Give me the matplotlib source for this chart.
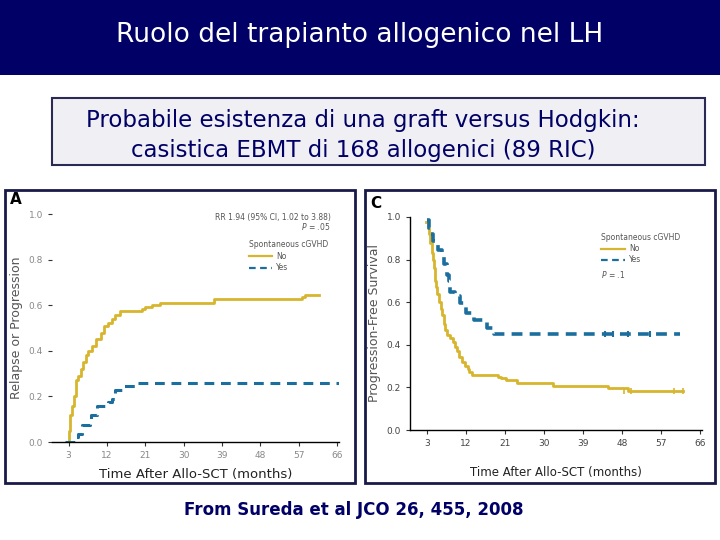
import numpy as np
import matplotlib
matplotlib.use('Agg')
import matplotlib.pyplot as plt
from matplotlib.patches import Rectangle

########################## Data ##########################

title = 'Ruolo del trapianto allogenico nel LH'
box_lines = ['Probabile esistenza di una graft versus Hodgkin:',
             'casistica EBMT di 168 allogenici (89 RIC)']
footer = 'From Sureda et al JCO 26, 455, 2008'

x_ticks = [3, 12, 21, 30, 39, 48, 57, 66]
y_ticks = [0.0, 0.2, 0.4, 0.6, 0.8, 1.0]

# panel A : relapse or progression (cumulative incidence)
a_no_t = [2.6, 3.0, 3.3, 3.8, 4.2, 4.8, 5.3, 5.8, 6.4, 7.0, 7.6, 8.5, 9.5, 10.5, 11.3,
          12.3, 13.2, 14.0, 15.0, 20.2, 21.0, 22.6, 24.5, 37.2, 57.8, 58.4, 61.7]
a_no_v = [0.0, 0.05, 0.12, 0.16, 0.20, 0.27, 0.29, 0.32, 0.35, 0.38, 0.40, 0.42, 0.45, 0.48, 0.51,
          0.52, 0.54, 0.555, 0.575, 0.585, 0.59, 0.60, 0.61, 0.626, 0.637, 0.645, 0.645]
a_yes_t = [2.2, 4.8, 5.3, 6.1, 8.0, 8.3, 9.7, 12.3, 13.2, 14.0, 15.9, 19.0, 66.8]
a_yes_v = [0.0, 0.02, 0.037, 0.073, 0.095, 0.117, 0.16, 0.175, 0.19, 0.227, 0.245, 0.26, 0.26]

# panel C : progression-free survival
c_no_t = [2.8, 3.2, 3.5, 3.8, 4.1, 4.4, 4.7, 4.8, 5.0, 5.4, 5.9, 6.3, 6.6, 6.9, 7.1, 7.6, 8.3,
          9.0, 9.5, 10.0, 10.5, 11.1, 11.8, 12.4, 12.8, 13.4, 19.3, 20.0, 21.2, 23.8, 32.2,
          44.7, 49.5, 62.2]
c_no_v = [0.975, 0.95, 0.92, 0.88, 0.83, 0.80, 0.76, 0.70, 0.67, 0.64, 0.60, 0.57, 0.54, 0.50,
          0.47, 0.445, 0.43, 0.415, 0.39, 0.37, 0.345, 0.32, 0.30, 0.285, 0.27, 0.26, 0.25, 0.245,
          0.235, 0.22, 0.207, 0.195, 0.183, 0.183]
c_yes_t = [3.0, 3.6, 3.9, 4.4, 5.5, 6.5, 7.0, 7.6, 8.0, 8.4, 9.5, 10.7, 12.1, 13.8, 16.8, 18.4, 61.5]
c_yes_v = [0.985, 0.95, 0.92, 0.885, 0.846, 0.815, 0.78, 0.73, 0.70, 0.65, 0.627, 0.596, 0.55,
           0.517, 0.478, 0.45, 0.45]
c_yes_cens = [44.0, 46.0, 49.5, 54.5]
c_no_cens = [48.5, 50.0, 60.0, 62.0]

navy = '#000066'
yellow = '#d8b52e'
blue = '#1b6e9e'

W, H = 720, 540
fig = plt.figure(figsize=(7.2, 5.4), dpi=100)


def rect_px(x0, y0, x1, y1):  # pixel box (top-left origin) -> figure fraction
    return [x0 / W, 1 - y1 / H, (x1 - x0) / W, (y1 - y0) / H]


def box(x0, y0, x1, y1, fc, ec, lw):
    fig.patches.append(Rectangle((x0 / W, 1 - y1 / H), (x1 - x0) / W, (y1 - y0) / H,
                                 transform=fig.transFigure, facecolor=fc, edgecolor=ec,
                                 linewidth=lw, zorder=-10))


def txt(x, y, s, **kw):
    fig.text(x / W, 1 - y / H, s, **kw)


########################## Slide background ##########################

box(0, 0, 720, 75, navy, navy, 0)
txt(360, 35, title, color='white', fontsize=19, ha='center', va='center')

box(52, 98, 705, 165, '#f0f0f4', '#2a2a55', 1.5)
txt(363, 121, box_lines[0], color=navy, fontsize=16.5, ha='center', va='center')
txt(363, 150, box_lines[1], color=navy, fontsize=16.5, ha='center', va='center')

txt(354, 510, footer, color=navy, fontsize=12, ha='center', va='center', fontweight='bold')

box(5, 190, 355, 483, 'white', '#1a1a4a', 2)
box(365, 190, 715, 483, 'white', '#1a1a4a', 2)

txt(10, 200, 'A', fontsize=11, fontweight='bold', ha='left', va='center')
txt(370, 204, 'C', fontsize=11, fontweight='bold', ha='left', va='center')


def setup(ax, tick_col, ylabel, show_left, xl_size):
    ax.set_zorder(5)
    ax.set_xlim(-0.9, 66.5)
    ax.set_ylim(0, 1.0)
    ax.set_xticks(x_ticks)
    ax.set_yticks(y_ticks)
    ax.set_yticklabels(['%.1f' % v for v in y_ticks])
    for s in ['top', 'right']:
        ax.spines[s].set_visible(False)
    ax.spines['left'].set_visible(show_left)
    ax.spines['bottom'].set_linewidth(1.0)
    ax.spines['left'].set_linewidth(1.0)
    ax.tick_params(labelsize=6.5, colors='#333333', labelcolor=tick_col, length=3, width=0.8)
    ax.set_xlabel('Time After Allo-SCT (months)', fontsize=xl_size, color='#222222', labelpad=6)
    ax.set_ylabel(ylabel, fontsize=9, color='#555555', labelpad=4)
    ax.patch.set_alpha(0)


########################## Panel A ##########################

axA = fig.add_axes(rect_px(52, 214, 339, 442))
setup(axA, '#888888', 'Relapse or Progression', False, 9.5)
axA.step(a_no_t, a_no_v, where='post', color=yellow, lw=2.0)
axA.step(a_yes_t, a_yes_v, where='post', color=blue, lw=2.2, linestyle=(0, (3.2, 2.2)))
axA.text(0.97, 0.985, 'RR 1.94 (95% CI, 1.02 to 3.88)', transform=axA.transAxes,
         fontsize=5.5, color='#555555', ha='right', va='center')
axA.text(0.97, 0.945, r'$P$ = .05', transform=axA.transAxes,
         fontsize=5.5, color='#555555', ha='right', va='center')
axA.text(0.685, 0.865, 'Spontaneous cGVHD', transform=axA.transAxes,
         fontsize=5.5, color='#555555', ha='left', va='center')
axA.plot([0.685, 0.765], [0.815, 0.815], transform=axA.transAxes, color=yellow, lw=1.6)
axA.plot([0.685, 0.765], [0.765, 0.765], transform=axA.transAxes, color=blue, lw=1.6,
         linestyle=(0, (3, 2)))
axA.text(0.78, 0.815, 'No', transform=axA.transAxes, fontsize=5.5, color='#555555', va='center')
axA.text(0.78, 0.765, 'Yes', transform=axA.transAxes, fontsize=5.5, color='#555555', va='center')

########################## Panel C ##########################

axC = fig.add_axes(rect_px(410, 217, 702, 430))
setup(axC, '#444444', 'Progression-Free Survival', True, 8.5)
axC.xaxis.labelpad = 13
axC.step(c_no_t, c_no_v, where='post', color=yellow, lw=2.0)
axC.step(c_yes_t, c_yes_v, where='post', color=blue, lw=2.6, linestyle=(0, (3.0, 2.0)))
axC.plot(c_yes_cens, [c_yes_v[-1]] * len(c_yes_cens), ls='none', marker='|', ms=5, mew=1.5, color=blue)
axC.plot(c_no_cens, [c_no_v[-1]] * len(c_no_cens), ls='none', marker='|', ms=4, mew=1.2, color=yellow)
axC.text(0.655, 0.905, 'Spontaneous cGVHD', transform=axC.transAxes,
         fontsize=5.5, color='#555555', ha='left', va='center')
axC.plot([0.655, 0.735], [0.85, 0.85], transform=axC.transAxes, color=yellow, lw=1.6)
axC.plot([0.655, 0.735], [0.80, 0.80], transform=axC.transAxes, color=blue, lw=1.6,
         linestyle=(0, (3, 2)))
axC.text(0.75, 0.85, 'No', transform=axC.transAxes, fontsize=5.5, color='#555555', va='center')
axC.text(0.75, 0.80, 'Yes', transform=axC.transAxes, fontsize=5.5, color='#555555', va='center')
axC.text(0.655, 0.73, r'$P$ = .1', transform=axC.transAxes,
         fontsize=5.5, color='#555555', ha='left', va='center')

fig.savefig('out.png', dpi=100)
